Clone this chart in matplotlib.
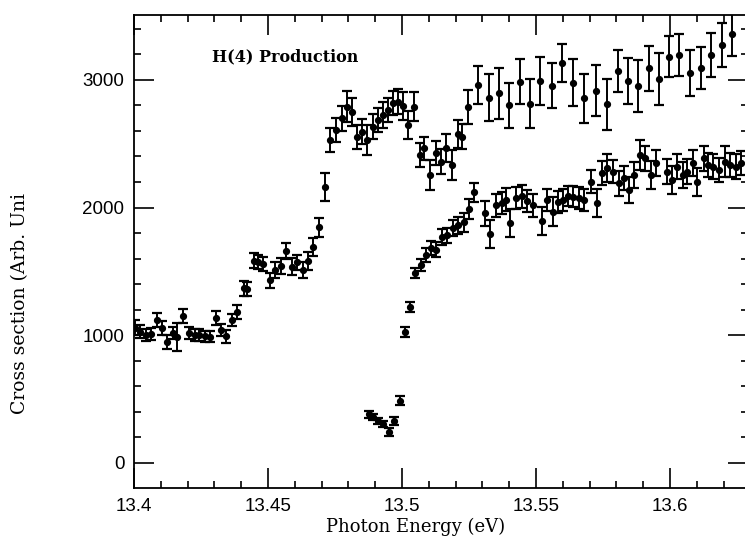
import matplotlib
matplotlib.use('Agg')
import matplotlib.pyplot as plt
from matplotlib.ticker import MultipleLocator
import numpy as np

# H(4) production cross section, upper curve
energy_a = [13.4004, 13.4022, 13.4045, 13.4063, 13.4086, 13.4104, 13.4123, 13.4146, 13.4162, 13.4183,
            13.4205, 13.4226, 13.4244, 13.4265, 13.4282, 13.4306, 13.4325, 13.4345, 13.4366, 13.4384,
            13.4409, 13.4421, 13.4448, 13.4464, 13.4482, 13.4507, 13.4526, 13.4547, 13.4567, 13.4588,
            13.4607, 13.4629, 13.4650, 13.4669, 13.4691, 13.4713, 13.4731, 13.4754, 13.4775, 13.4794,
            13.4812, 13.4831, 13.4850, 13.4868, 13.4891, 13.4912, 13.4928, 13.4949, 13.4968, 13.4986,
            13.5005, 13.5023, 13.5045, 13.5066, 13.5083, 13.5104, 13.5125, 13.5146, 13.5165, 13.5185,
            13.5209, 13.5225, 13.5247, 13.5285, 13.5323, 13.5361, 13.5400, 13.5440, 13.5478, 13.5516,
            13.5559, 13.5598, 13.5639, 13.5680, 13.5723, 13.5764, 13.5805, 13.5842, 13.5882, 13.5922,
            13.5959, 13.5997, 13.6035, 13.6075, 13.6115, 13.6152, 13.6193, 13.6232]
sigma_a = [1060, 1028, 1002, 1010, 1120, 1057, 945, 1018, 987, 1151,
           1018, 1002, 1002, 992, 989, 1135, 1041, 992, 1120, 1180,
           1368, 1360, 1583, 1577, 1557, 1430, 1511, 1543, 1660, 1537,
           1570, 1511, 1583, 1694, 1844, 2164, 2529, 2608, 2699, 2790,
           2751, 2555, 2594, 2529, 2634, 2686, 2725, 2764, 2817, 2830,
           2793, 2647, 2790, 2412, 2464, 2255, 2425, 2360, 2464, 2334,
           2575, 2555, 2788, 2960, 2860, 2895, 2800, 2986, 2814, 2993,
           2955, 3130, 2978, 2856, 2915, 2809, 3070, 2994, 2952, 3091,
           3007, 3182, 3195, 3056, 3091, 3195, 3273, 3357]
err_a = [60, 50, 45, 50, 55, 55, 55, 50, 110, 55,
         45, 45, 45, 45, 45, 55, 50, 50, 50, 55,
         60, 55, 60, 55, 55, 60, 60, 60, 65, 65,
         60, 60, 70, 70, 75, 110, 95, 95, 100, 120,
         110, 95, 100, 115, 95, 95, 100, 95, 95, 100,
         110, 110, 115, 95, 90, 120, 95, 100, 110, 115,
         110, 100, 130, 150, 185, 200, 175, 175, 190, 190,
         175, 150, 185, 190, 200, 200, 165, 180, 200, 175,
         200, 160, 165, 180, 165, 170, 170, 170]

# lower curve
energy_b = [13.4878, 13.4893, 13.4912, 13.4930, 13.4953, 13.4971, 13.4993, 13.5011, 13.5030, 13.5049,
            13.5070, 13.5091, 13.5109, 13.5128, 13.5148, 13.5168, 13.5189, 13.5210, 13.5230, 13.5251,
            13.5269, 13.5310, 13.5328, 13.5352, 13.5372, 13.5388, 13.5404, 13.5426, 13.5447, 13.5465,
            13.5488, 13.5521, 13.5540, 13.5562, 13.5583, 13.5602, 13.5621, 13.5639, 13.5660, 13.5680,
            13.5704, 13.5727, 13.5745, 13.5764, 13.5786, 13.5808, 13.5829, 13.5847, 13.5867, 13.5888,
            13.5907, 13.5928, 13.5948, 13.5988, 13.6007, 13.6025, 13.6047, 13.6065, 13.6085, 13.6100,
            13.6125, 13.6143, 13.6162, 13.6181, 13.6206, 13.6224, 13.6246, 13.6265]
sigma_b = [381, 358, 329, 305, 245, 331, 488, 1028, 1219, 1485,
           1550, 1629, 1681, 1670, 1770, 1782, 1840, 1860, 1885, 1988,
           2120, 1955, 1790, 2020, 2035, 2060, 1880, 2073, 2090, 2053,
           2020, 1898, 2060, 1969, 2046, 2060, 2091, 2086, 2073, 2060,
           2203, 2033, 2269, 2308, 2282, 2190, 2230, 2138, 2255, 2412,
           2386, 2255, 2347, 2282, 2216, 2321, 2255, 2282, 2347, 2203,
           2386, 2334, 2321, 2295, 2360, 2334, 2321, 2347]
err_b = [25, 25, 25, 25, 30, 30, 35, 40, 40, 40,
         50, 55, 55, 60, 65, 60, 65, 70, 75, 80,
         75, 100, 110, 90, 85, 90, 110, 85, 90, 85,
         90, 110, 85, 110, 85, 85, 80, 80, 85, 85,
         90, 110, 95, 110, 90, 100, 95, 100, 100, 120,
         100, 110, 100, 95, 110, 95, 100, 100, 100, 110,
         100, 95, 95, 95, 120, 95, 95, 95]

W, H = 745, 539
fig = plt.figure(figsize=(W / 100, H / 100), dpi=100)
# the right frame edge is cut off in the scan
ax = fig.add_axes([134 / W, 51 / H, (748 - 134) / W, (524 - 51) / H])

style = dict(fmt='o', color='black', ms=4.2, elinewidth=1.4, capsize=3.5, capthick=1.6)
ax.errorbar(energy_a, sigma_a, yerr=err_a, **style)
ax.errorbar(energy_b, sigma_b, yerr=err_b, **style)

ax.set_xlim(13.4, 13.4 + (748 - 134) / 2680)
ax.set_ylim(-196, 3508)
ax.xaxis.set_minor_locator(MultipleLocator(0.01))
ax.yaxis.set_minor_locator(MultipleLocator(200))
ax.set_xticks([13.4, 13.45, 13.5, 13.55, 13.6])
ax.set_xticklabels(['13.4', '13.45', '13.5', '13.55', '13.6'])
ax.set_yticks([0, 1000, 2000, 3000])
ax.set_yticklabels(['0', '1000', '2000', '3000'])
ax.tick_params(which='both', direction='in', top=True, right=True, width=1.2)
ax.tick_params(which='major', length=14.5, pad=7, labelsize=13.5)
ax.tick_params(which='minor', length=5)
for lab in ax.get_xticklabels() + ax.get_yticklabels():
    lab.set_fontfamily('Liberation Sans')
for sp in ax.spines.values():
    sp.set_linewidth(1.3)
ax.spines['right'].set_visible(False)

fig.text(416 / W, 1 - 527 / H, 'Photon Energy (eV)', ha='center', va='center',
         family='DejaVu Serif', fontsize=13)
fig.text(20 / W, 1 - 303 / H, 'Cross section (Arb. Uni', ha='center', va='center',
         rotation=90, family='DejaVu Serif', fontsize=13.5)
fig.text(285 / W, 1 - 57 / H, 'H(4) Production', ha='center', va='center',
         family='DejaVu Serif', fontweight='bold', fontsize=11.5)

fig.savefig('out.png', dpi=100)
